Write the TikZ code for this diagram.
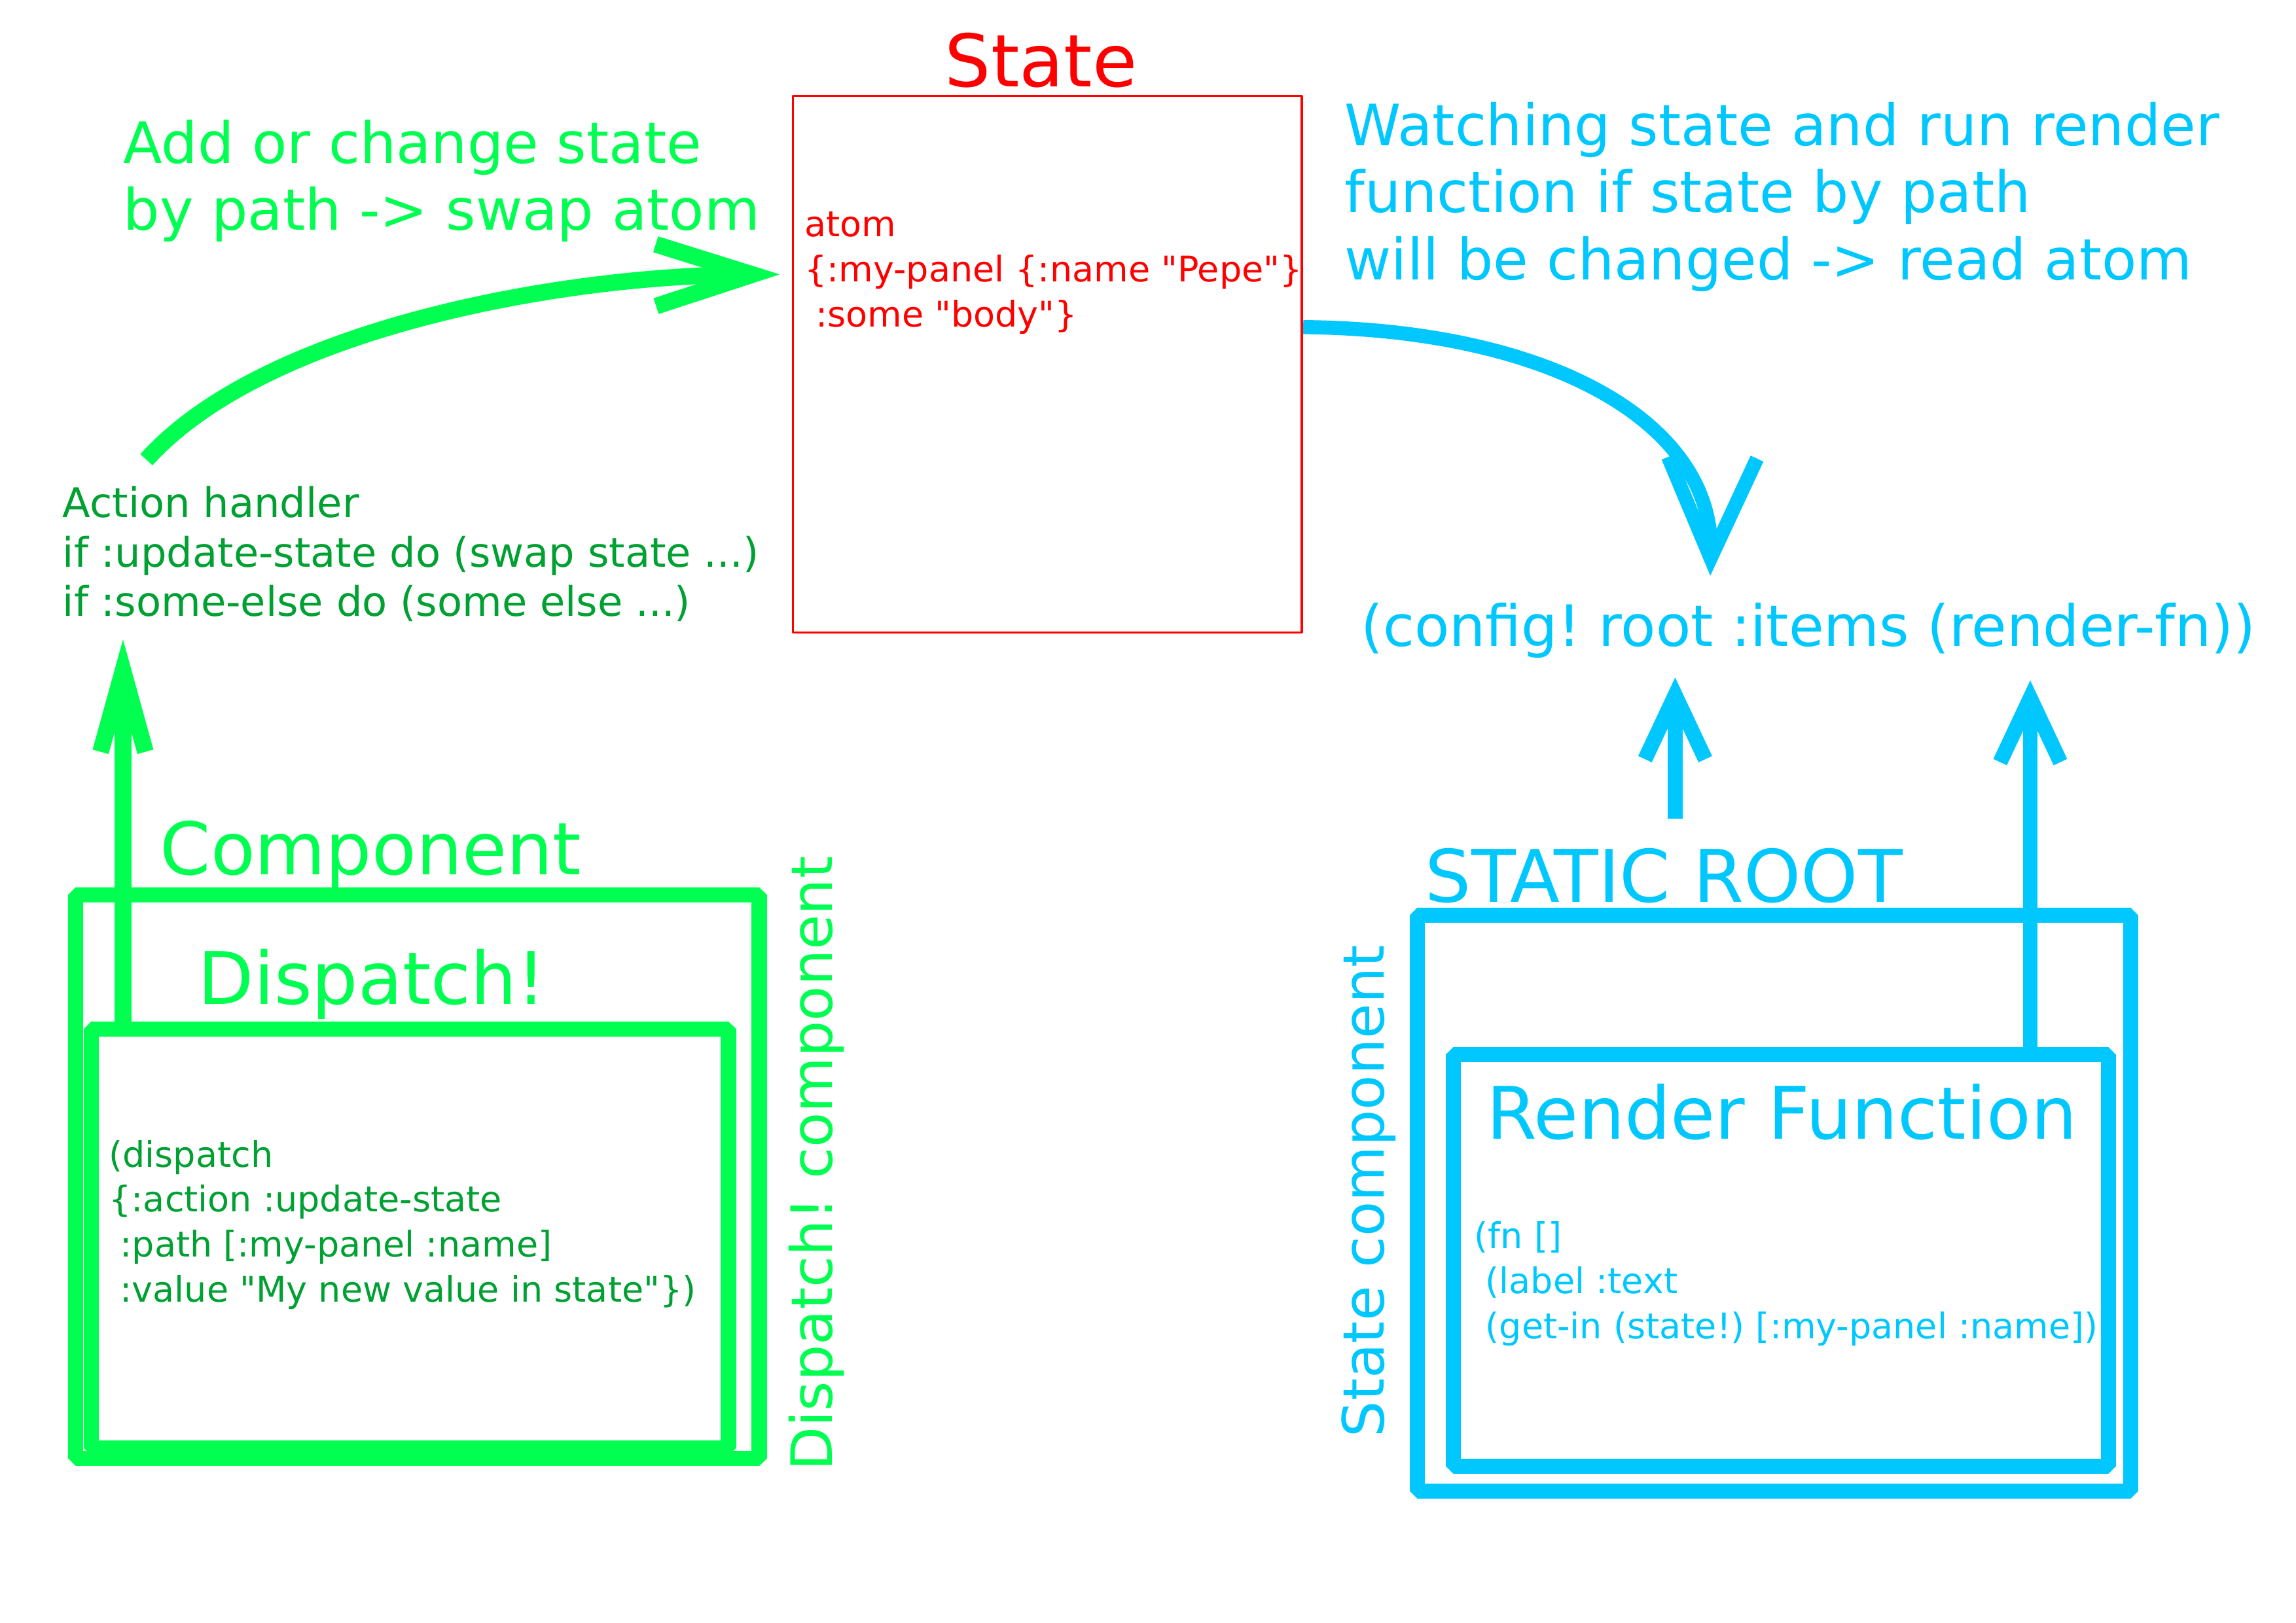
\documentclass[tikz,border=0pt]{standalone}
\usepackage{fontspec}
\setmainfont{DejaVu Sans}
\usetikzlibrary{positioning,fit,calc,arrows.meta}
\definecolor{brightgreen}{RGB}{0,255,80}
\definecolor{codegreen}{RGB}{0,160,50}
\definecolor{skyblue}{RGB}{0,200,255}
\newcommand\bigtxt{\fontsize{26.7pt}{32pt}\selectfont}
\newcommand\midtxt{\fontsize{21pt}{24.6pt}\selectfont}
\newcommand\codetxt{\fontsize{13pt}{16.6pt}\selectfont}
\newcommand\handlertxt{\fontsize{15pt}{18.1pt}\selectfont}
\newcommand\q{\textquotedbl}
\frenchspacing
\tikzset{box/.style={draw, line width=5.6pt, line join=bevel, inner sep=0pt, outer sep=0pt},
% bevel join gives the cut corners of the thick frames
txt/.style={inner sep=0pt, anchor=base west},
code/.style={txt, align=left, font=\codetxt},
% multi line texts sit on the baseline of their last line
line/.style={line width=6.1pt},
barb/.style 2 args={-{Straight Barb[length=#1,width=#2,sharp]}}
}
\begin{document}
\begin{tikzpicture}[x=0.018941cm, y=-0.018941cm]
  \useasboundingbox (0,0) rectangle (1568,1108.5);
  \node[box, draw=red, line width=0.8pt, fit={(541.5,65.4) (889,432)}] (state) {};
  \node[txt, red, font=\bigtxt] (statelbl) at (645,59.4) {State};
  \node[code, red] (atom) at (549,223.2) {atom\\\{:my-panel \{:name \q Pepe\q\}\\\ :some \q body\q\}};
  \node[txt, brightgreen, font=\midtxt, align=left] (addlbl) at (84,157.3) {Add or change state\\by path -> swap atom};
  \node[code, codegreen, font=\handlertxt] (handler) at (42.5,420.7) {Action handler\\if :update-state do (swap state ...)\\if :some-else do (some else ...)};
  \node[txt, skyblue, font=\midtxt, align=left] (watchlbl) at (918,190.9) {Watching state and run render\\function if state by path\\will be changed -> read atom};
  \node[txt, skyblue, font=\midtxt] (config) at (929,441.2) {(config! root :items (render-fn))};
  \node[box, draw=brightgreen, fit={(51.5,611.2) (518.5,996.2)}] (compbox) {};
  \node[box, draw=brightgreen, fit={(62.5,702.8) (497.5,989)}] (dispbox) {};
  \node[txt, brightgreen, font=\bigtxt] (complbl) at (109,597.4) {Component};
  \node[txt, brightgreen, font=\bigtxt] (displbl) at (135,685.8) {Dispatch!};
  \node[code, codegreen] (dispcode) at (74,889.4) {(dispatch\\\{:action :update-state\\\ :path [:my-panel :name]\\\ :value \q My new value in state\q\})};
  \node[txt, brightgreen, font=\midtxt, rotate=90] (dispcomp) at (568.5,1005) {Dispatch! component};
  \node[box, draw=skyblue, fit={(968,625) (1455,1018.4)}] (rootbox) {};
  \node[box, draw=skyblue, fit={(992.5,720.4) (1440,1001.5)}] (rfbox) {};
  \node[txt, skyblue, font=\bigtxt] (rootlbl) at (973,616.2) {STATIC ROOT};
  \node[txt, skyblue, font=\bigtxt] (rflbl) at (1015,778) {Render Function};
  \node[code, skyblue] (fncode) at (1006.5,914.2) {(fn []\\\ (label :text\\\ (get-in (state!) [:my-panel :name]))};
  \node[txt, skyblue, font=\midtxt, rotate=90] (statecomp) at (945,982) {State component};
  \coordinate (gfoot) at ($(dispbox.north west)+(21.5,5)$);
  \coordinate (bfoot) at ($(rootlbl.north west)+(171,-20)$);
  \coordinate (rfoot) at ($(rfbox.north west)+(394,0)$);
  \draw[line, brightgreen, barb={1.25cm}{0.8cm}] ($(handler.north west)+(57.5,-18)$) .. controls +(80,-89) and +(-152,1) .. ($(state.north west)+(-9,122)$);
  \draw[line, skyblue, line width=5.2pt, barb={1.3cm}{1.15cm}] ($(state.north east)+(1,158)$) .. controls +(170,1.6) and +(2,-104) .. ($(config.north west)+(239,-18)$);
  \draw[line, brightgreen, barb={1.05cm}{0.58cm}] (gfoot) -- ($(gfoot |- handler.south)+(0,12)$);
  \draw[line, skyblue, line width=5.5pt, barb={0.83cm}{0.78cm}] (bfoot) -- ($(bfoot |- config.south)+(0,13)$);
  \draw[line, skyblue, line width=5.5pt, barb={0.83cm}{0.78cm}] (rfoot) -- ($(rfoot |- config.south)+(0,15)$);
\end{tikzpicture}
\end{document}
